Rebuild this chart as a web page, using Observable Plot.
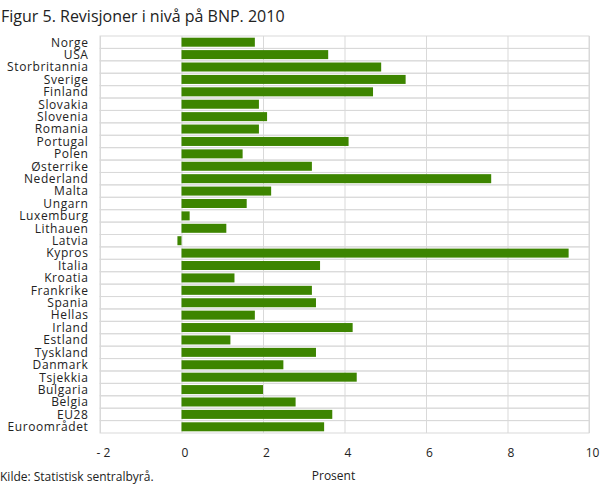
<!DOCTYPE html>
<html>
<head>
<meta charset="utf-8">
<script src="https://cdn.jsdelivr.net/npm/d3@7"></script>
<script src="https://cdn.jsdelivr.net/npm/@observablehq/plot@0.6"></script>
<style>
  html, body { margin: 0; padding: 0; background: #fff; }
  #wrap { position: relative; width: 609px; height: 489px; font-family: "Open Sans", sans-serif; color: #222; }
  #title { position: absolute; left: 1px; top: 8px; font-size: 16px; line-height: 16px; white-space: nowrap; }
  #chart { position: absolute; left: 0; top: 30px; }
  #chart svg g[aria-label="y-axis tick label"] { letter-spacing: 0.6px; }
  #xlabel { position: absolute; left: 283.5px; width: 100px; text-align: center; top: 470px; font-size: 12px; line-height: 12px; }
  #kilde { position: absolute; left: 0; top: 471px; font-size: 12px; line-height: 12px; white-space: nowrap; }
</style>
</head>
<body>
<div id="wrap">
  <div id="title">Figur 5. Revisjoner i nivå på BNP. 2010</div>
  <div id="chart"></div>
  <div id="xlabel">Prosent</div>
  <div id="kilde">Kilde: Statistisk sentralbyrå.</div>
</div>
<script>
const countries = ["Norge","USA","Storbritannia","Sverige","Finland","Slovakia","Slovenia","Romania","Portugal","Polen","Østerrike","Nederland","Malta","Ungarn","Luxemburg","Lithauen","Latvia","Kypros","Italia","Kroatia","Frankrike","Spania","Hellas","Irland","Estland","Tyskland","Danmark","Tsjekkia","Bulgaria","Belgia","EU28","Euroområdet"];
const revisions = [1.8,3.6,4.9,5.5,4.7,1.9,2.1,1.9,4.1,1.5,3.2,7.6,2.2,1.6,0.2,1.1,-0.1,9.5,3.4,1.3,3.2,3.3,1.8,4.2,1.2,3.3,2.5,4.3,2.0,2.8,3.7,3.5];
const xTicks = [-2,0,2,4,6,8,10];

const data = countries.map((c, i) => ({country: c, value: revisions[i]}));
const xMin = d3.min(xTicks), xMax = d3.max(xTicks);
const grid = "#d9d9d9";

const chart = Plot.plot({
  width: 609,
  height: 455,
  marginLeft: 100,
  marginRight: 20,
  marginTop: 6,
  marginBottom: 52,
  style: {fontFamily: "Open Sans, sans-serif", fontSize: "12px", color: "#222", background: "#fff"},
  x: {domain: [xMin, xMax], ticks: xTicks, label: null},
  y: {domain: countries, padding: 0, round: false, label: null},
  marks: [
    Plot.barX(countries, {y: d => d, x1: xMin, x2: xMax, fill: "none", stroke: grid, strokeWidth: 1}),
    Plot.ruleX(xTicks, {stroke: grid, strokeWidth: 1}),
    Plot.barX(data, {y: "country", x1: 0, x2: "value", fill: "#3d8500", insetTop: 1.7, insetBottom: 1.7}),
    Plot.axisX({ticks: xTicks, tickSize: 0, tickPadding: 15, dx: 3, tickFormat: d => d < 0 ? "- " + Math.abs(d) : String(d), label: null, fill: "#222"}),
    Plot.axisY({tickSize: 0, tickPadding: 12, label: null, fill: "#222"})
  ]
});
document.getElementById("chart").appendChild(chart);
</script>
</body>
</html>
